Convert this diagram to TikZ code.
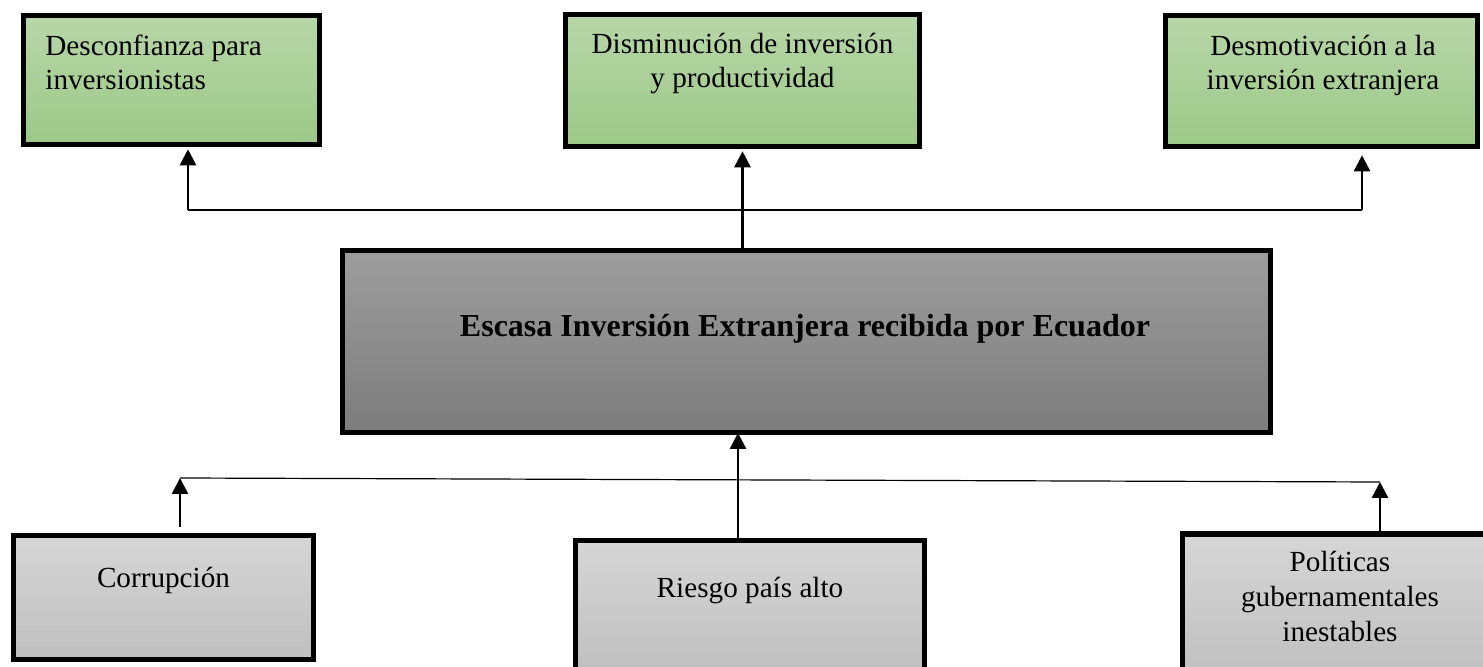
\documentclass[tikz,border=0pt]{standalone}
\usepackage{fontspec}
\setmainfont{Liberation Serif}
\usetikzlibrary{positioning,arrows.meta}

\definecolor{effTop}{RGB}{184,214,168}
\definecolor{effBot}{RGB}{156,201,136}
\definecolor{probTop}{RGB}{157,157,157}
\definecolor{probBot}{RGB}{124,124,124}
\definecolor{causeTop}{RGB}{214,214,214}
\definecolor{causeBot}{RGB}{191,191,191}

\tikzset{
  basebox/.style={draw=black, line width=2.8pt, inner sep=0pt},
  effectbox/.style={basebox, top color=effTop, bottom color=effBot},
  problembox/.style={basebox, top color=probTop, bottom color=probBot},
  causebox/.style={basebox, top color=causeTop, bottom color=causeBot},
  txt/.style={font=\fontsize{14.6}{17.3}\selectfont, align=center, anchor=base, inner sep=0pt},
  arr/.style={-{Triangle[length=8pt,width=8pt]}, line width=1.3pt},
  bar/.style={line width=0.6pt},
}

\begin{document}
\begin{tikzpicture}[x=0.5pt,y=-0.5pt]

  \useasboundingbox (0,0) rectangle (1483,667);

  % effects
  \node[effectbox] (e1) at (171.5,80) [minimum width=148pt, minimum height=64.5pt] {};
  \node[effectbox] (e2) at (742.5,80.5) [minimum width=177pt, minimum height=66pt] {};
  \node[effectbox] (e3) at (1321.5,81) [minimum width=156pt, minimum height=65.5pt] {};

  % base anchor sits on the last line
  \node[txt] (e1t) at (45,90) [anchor=base west, align=left] {Desconfianza para\\inversionistas};
  \node[txt] (e2t) at (742.5,88) {Disminución de inversión\\y productividad};
  \node[txt] (e3t) at (1323,90) {Desmotivación a la\\inversión extranjera};

  % problem
  \node[problembox] (p0) at (806.5,341.5) [minimum width=464pt, minimum height=91pt] {};
  \node[txt] (p0t) at (805,337) [font=\fontsize{16}{19}\selectfont\bfseries] {Escasa Inversión Extranjera recibida por Ecuador};

  % causes
  \node[causebox] (c1) at (163.5,597.5) [minimum width=150pt, minimum height=62pt] {};
  \node[causebox] (c2) at (750,606) [minimum width=174.5pt, minimum height=65.5pt] {};
  \node[causebox] (c3) at (1341,607) [minimum width=158.5pt, minimum height=73pt] {};

  \node[txt] (c1t) at (163.5,588) {Corrupción};
  \node[txt] (c2t) at (750,597) {Riesgo país alto};
  \node[txt] (c3t) at (1340,641) {Políticas\\gubernamentales\\inestables};

  % bars
  \coordinate (tl) at (188,210);
  \coordinate (tr) at (1362,210);
  \coordinate (bl) at (180,478);
  \coordinate (br) at (1380,482);

  \draw[bar] (tl) -- (tr);
  \draw[bar] (bl) -- (br);

  \draw[arr] (tl) -- ([yshift=-1pt]tl |- e1.south);
  \draw[arr] (tr) -- ([yshift=-3pt]tr |- e3.south);
  \draw[arr] (e2.south |- p0.north) -- ([yshift=-1pt]e2.south);

  \draw[arr, shorten <=3pt] (bl |- c1.north) -- (bl);
  \draw[arr] ([xshift=-6pt]c2.north) -- ([xshift=-6pt,yshift=1.2pt]c2.north |- p0.south);
  \draw[arr] (br |- c3.north) -- (br);

\end{tikzpicture}
\end{document}
